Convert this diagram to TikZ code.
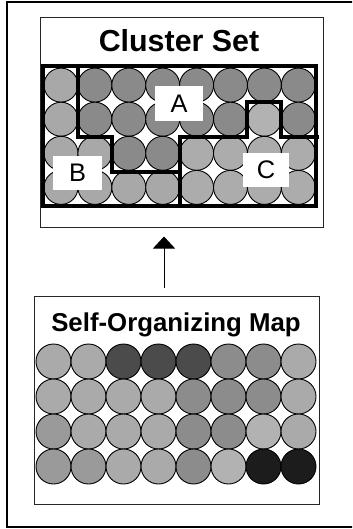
\documentclass[tikz,border=0pt]{standalone}
\usepackage{fontspec}
\setmainfont{Liberation Sans}
\usetikzlibrary{arrows.meta}
\definecolor{cA}{gray}{0.54}
\definecolor{cB}{gray}{0.66}
\definecolor{cC}{gray}{0.675}
\definecolor{cCC}{gray}{0.70}
\definecolor{sL}{gray}{0.665}
\definecolor{sM}{gray}{0.55}
\definecolor{sD}{gray}{0.295}
\definecolor{sK}{gray}{0.11}
\definecolor{sm}{gray}{0.605}
\definecolor{sLL}{gray}{0.70}
\begin{document}
\begin{tikzpicture}[x=1bp,y=-1bp,
  every node/.style={inner sep=0pt, outer sep=0pt},
  panel/.style={draw=black!85, line width=1bp, fill=white},
  cell/.style={circle, draw=black, line width=0.9bp},
  border/.style={line width=4.4bp, line join=miter},
  labelbox/.style={fill=white, font=\fontsize{25.5}{26}\selectfont},
  arr/.style={line width=1bp, -{Triangle[width=22bp,length=12bp]}}]
\useasboundingbox (0,0) rectangle (352,529);
\clip (0,0) rectangle (352,529);
% outer frame
\draw[line width=2bp] (7,2.5) rectangle (370,527);
% panels
\node[panel, minimum width=282bp, minimum height=209bp] (cs) at (182,122.5) {};
\node[panel, minimum width=284bp, minimum height=208bp] (som) at (177,400) {};
% titles
\node[anchor=base, font=\bfseries\fontsize{30.5}{32}\selectfont] (cstitle) at (179,51.5) {Cluster Set};
\node[anchor=base, font=\bfseries\fontsize{25.9}{27}\selectfont] (somtitle) at (176,331) {Self-Organizing Map};
% cluster set cells
\foreach \row [count=\r from 0] in {{cB,cA,cA,cA,cA,cA,cA,cA},{cB,cA,cA,cA,cA,cA,cCC,cA},{cB,cB,cA,cA,cC,cC,cC,cC},{cB,cB,cB,cB,cC,cC,cC,cC}}{
  \foreach \col [count=\c from 0] in \row {
    \node[cell, fill=\col, minimum size=34bp] (t\r\c) at ({61+33.9*\c},{85.1+34.1*\r}) {};
  }
}
% cluster borders
\draw[border] (43,66) rectangle (316,206);
\draw[border] (78,66) |- (112,137) |- (180,172) -- (180,206);
\draw[border] (180,172) -- (180,137) -- (247,137) |- (281,102) |- (319,137);
% cluster labels
\node[labelbox, minimum width=48bp, minimum height=35bp] (la) at (179,103.5) {A};
\node[labelbox, minimum width=49bp, minimum height=33bp] (lb) at (77.5,173) {B};
\node[labelbox, minimum width=46bp, minimum height=34bp] (lc) at (266,170) {C};
% SOM cells
\foreach \row [count=\r from 0] in {{sL,sL,sD,sD,sD,sM,sM,sL},{sL,sL,sL,sL,sM,sM,sM,sL},{sm,sL,sL,sL,sM,sM,sLL,sL},{sm,sm,sL,sL,sM,sLL,sK,sK}}{
  \foreach \col [count=\c from 0] in \row {
    \node[cell, fill=\col, minimum size=35bp] (s\r\c) at ({53.5+35*\c},{361.5+35*\r}) {};
  }
}
% arrow
\coordinate (ax) at (164,0);
\draw[arr, shorten <=8bp, shorten >=9.5bp] (som.north -| ax) -- (cs.south -| ax);
\end{tikzpicture}
\end{document}
